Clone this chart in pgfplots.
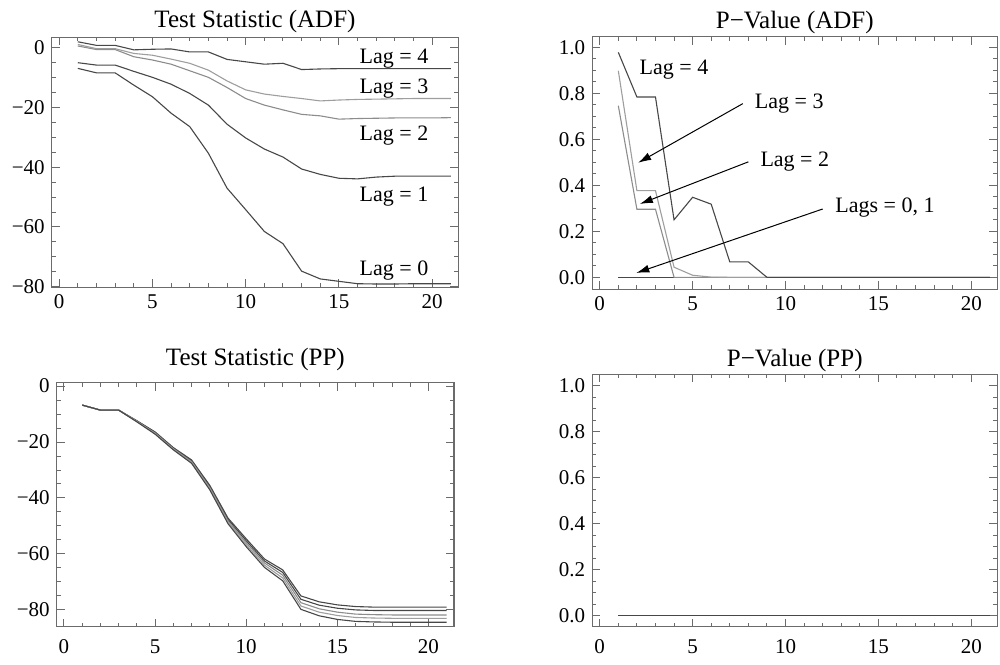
\documentclass[border=0pt]{standalone}
\usepackage{fontspec}
\setmainfont{Liberation Serif}
\usepackage{pgfplots}
\usepackage{pgfplotstable}
\pgfplotsset{compat=1.18}
\usetikzlibrary{arrows.meta}

\definecolor{framegray}{gray}{0.42}
\definecolor{dk}{gray}{0.28}
\definecolor{lt}{gray}{0.55}
\definecolor{ltt}{gray}{0.62}

% ADF test statistic, lags 0-4
\pgfplotstableread{
x lag0 lag1 lag2 lag3 lag4
1 -6.9 -5.0 0.6 1.1 2.0
2 -8.4 -5.8 -0.6 -0.3 0.8
3 -8.4 -5.8 -0.6 -0.3 0.8
4 -12.5 -7.9 -3.0 -1.9 -0.7
5 -16.4 -9.9 -4.1 -2.5 -0.5
6 -21.9 -12.2 -5.5 -3.8 -0.4
7 -26.4 -15.3 -7.7 -5.2 -1.4
8 -35.3 -19.2 -9.9 -7.5 -1.4
9 -47.0 -25.6 -13.3 -11.1 -3.9
10 -54.2 -30.2 -17.0 -14.1 -4.7
11 -61.5 -33.9 -19.2 -15.5 -5.5
12 -65.6 -36.6 -20.8 -16.3 -5.2
13 -74.8 -40.6 -22.3 -17.0 -7.3
14 -77.4 -42.4 -22.8 -17.8 -7.1
15 -78.2 -43.7 -23.9 -17.5 -7.0
16 -79.0 -43.9 -23.7 -17.3 -7.0
17 -79.1 -43.3 -23.6 -17.2 -7.0
18 -79.1 -43.0 -23.5 -17.1 -7.0
19 -79.0 -43.0 -23.5 -17.0 -7.0
20 -79.0 -43.0 -23.5 -17.0 -7.0
21 -79.0 -43.0 -23.4 -17.0 -7.0
}\adfstat

% ADF p-values
\pgfplotstableread{
x lag0 lag1 lag2 lag3 lag4
1 0 0 0.746 0.898 0.978
2 0 0 0.296 0.377 0.784
3 0 0 0.296 0.377 0.784
4 0 0 0 0.044 0.250
5 0 0 0 0.009 0.348
6 0 0 0 0.001 0.318
7 0 0 0 0 0.067
8 0 0 0 0 0.067
9 0 0 0 0 0
10 0 0 0 0 0
11 0 0 0 0 0
12 0 0 0 0 0
13 0 0 0 0 0
14 0 0 0 0 0
15 0 0 0 0 0
16 0 0 0 0 0
17 0 0 0 0 0
18 0 0 0 0 0
19 0 0 0 0 0
20 0 0 0 0 0
21 0 0 0 0 0
}\adfpval

% PP test statistic
\pgfplotstableread{
x lag0 lag1 lag2 lag3 lag4
1 -6.8 -6.8 -6.8 -6.8 -6.8
2 -8.6 -8.6 -8.6 -8.6 -8.6
3 -8.6 -8.6 -8.6 -8.6 -8.6
4 -12.4 -12.5 -12.6 -12.7 -12.8
5 -16.4 -16.6 -16.8 -17.0 -17.2
6 -22.0 -22.2 -22.4 -22.6 -22.8
7 -26.4 -26.7 -27.0 -27.3 -27.6
8 -35.5 -35.9 -36.3 -36.7 -37.1
9 -47.2 -47.7 -48.2 -48.7 -49.2
10 -54.6 -55.3 -56.0 -56.7 -57.4
11 -61.8 -62.5 -63.2 -64.0 -64.8
12 -65.7 -66.6 -67.6 -68.6 -69.6
13 -75.0 -76.2 -77.4 -78.6 -79.8
14 -77.1 -78.3 -79.6 -80.8 -82.1
15 -78.2 -79.4 -80.8 -82.0 -83.4
16 -78.8 -80.0 -81.5 -82.7 -84.1
17 -79.0 -80.2 -81.7 -82.9 -84.3
18 -79.0 -80.2 -81.8 -83.0 -84.4
19 -79.0 -80.2 -81.8 -83.0 -84.4
20 -79.0 -80.2 -81.8 -83.0 -84.4
21 -79.0 -80.2 -81.8 -83.0 -84.4
}\ppstat

% PP p-values
\pgfplotstableread{
x lag0 lag1 lag2 lag3 lag4
1 0 0 0 0 0
5 0 0 0 0 0
10 0 0 0 0 0
15 0 0 0 0 0
21 0 0 0 0 0
}\pppval

\pgfplotsset{
  mma/.style={
    scale only axis,
    xmin=-0.4, xmax=21.4,
    xtick={0,5,10,15,20},
    minor x tick num=4, minor y tick num=3,
    tick align=inside,
    major tick length=4pt, minor tick length=2pt,
    axis line style={framegray, line width=0.6pt},
    tick style={framegray, line width=0.5pt},
    ticklabel style={font=\fontsize{10.5}{12}\selectfont},
    /pgf/number format/assume math mode=true,
    title style={font=\fontsize{12.5}{14}\selectfont, at={(0.5,1)}, anchor=base},
    every axis plot/.append style={line width=0.55pt, no marks},
  },
  statax/.style={
    ytick={-80,-60,-40,-20,0},
    yticklabels={−80,−60,−40,−20,0},
  },
  pvax/.style={
    ytick={0,0.2,0.4,0.6,0.8,1.0},
    yticklabel style={/pgf/number format/.cd, fixed, fixed zerofill, precision=1},
  },
}
\tikzset{lbl/.style={font=\fontsize{11}{13}\selectfont, inner sep=0pt}}

\begin{document}
\begin{tikzpicture}[x=1pt,y=1pt]
\useasboundingbox (0,0) rectangle (500,332);

% Test Statistic (ADF)
\begin{axis}[mma, statax, at={(25.85pt,188.35pt)}, anchor=south west,
  width=203.3pt, height=125pt, ymin=-80.2, ymax=3.5,
  title={Test Statistic (ADF)}, title style={yshift=-1.2pt}]
\addplot[dk] table[x=x,y=lag0] {\adfstat};
\addplot[dk] table[x=x,y=lag1] {\adfstat};
\addplot[lt] table[x=x,y=lag2] {\adfstat};
\addplot[ltt] table[x=x,y=lag3] {\adfstat};
\addplot[dk] table[x=x,y=lag4] {\adfstat};
\node[lbl] at (axis cs:17.95,-3.6) {Lag = 4};
\node[lbl] at (axis cs:17.95,-13.6) {Lag = 3};
\node[lbl] at (axis cs:17.95,-29.5) {Lag = 2};
\node[lbl] at (axis cs:17.95,-49.8) {Lag = 1};
\node[lbl] at (axis cs:17.95,-74.6) {Lag = 0};
\end{axis}

% P-Value (ADF)
\begin{axis}[mma, pvax, at={(296.15pt,187.35pt)}, anchor=south west,
  width=202.5pt, height=126.3pt, ymin=-0.052, ymax=1.046,
  title={P−Value (ADF)}, title style={yshift=-2pt}]
\addplot[dk] table[x=x,y=lag0] {\adfpval};
\addplot[dk] table[x=x,y=lag1] {\adfpval};
\addplot[lt] table[x=x,y=lag2] {\adfpval};
\addplot[ltt] table[x=x,y=lag3] {\adfpval};
\addplot[dk] table[x=x,y=lag4] {\adfpval};
\node[lbl] at (axis cs:4.0,0.904) {Lag = 4};
\node[lbl] at (axis cs:10.2,0.755) {Lag = 3};
\node[lbl] at (axis cs:10.5,0.502) {Lag = 2};
\node[lbl] at (axis cs:15.35,0.302) {Lags = 0, 1};
\draw[black, line width=0.5pt, -{Latex[length=6.5pt,width=4pt]}] (axis cs:7.7,0.755) -- (axis cs:2.07,0.498);
\draw[black, line width=0.5pt, -{Latex[length=6.5pt,width=4pt]}] (axis cs:8.0,0.502) -- (axis cs:2.16,0.319);
\draw[black, line width=0.5pt, -{Latex[length=6.5pt,width=4pt]}] (axis cs:12.0,0.297) -- (axis cs:1.97,0.019);
\end{axis}

% Test Statistic (PP)
\begin{axis}[mma, statax, at={(28.35pt,18.65pt)}, anchor=south west,
  width=198.65pt, height=122pt, ymin=-86, ymax=1.2,
  xticklabel style={yshift=-3pt},
  title={Test Statistic (PP)}, title style={yshift=2.5pt}]
\addplot[dk] table[x=x,y=lag0] {\ppstat};
\addplot[dk] table[x=x,y=lag1] {\ppstat};
\addplot[lt] table[x=x,y=lag2] {\ppstat};
\addplot[ltt] table[x=x,y=lag3] {\ppstat};
\addplot[dk] table[x=x,y=lag4] {\ppstat};
\end{axis}

% P-Value (PP)
\begin{axis}[mma, pvax, at={(296.15pt,18.65pt)}, anchor=south west,
  width=202.5pt, height=126.2pt, ymin=-0.048, ymax=1.05,
  xticklabel style={yshift=-3pt},
  title={P−Value (PP)}, title style={yshift=-2.2pt}]
\addplot[dk] table[x=x,y=lag0] {\pppval};
\addplot[dk] table[x=x,y=lag1] {\pppval};
\addplot[lt] table[x=x,y=lag2] {\pppval};
\addplot[ltt] table[x=x,y=lag3] {\pppval};
\addplot[dk] table[x=x,y=lag4] {\pppval};
\end{axis}
\end{tikzpicture}
\end{document}
